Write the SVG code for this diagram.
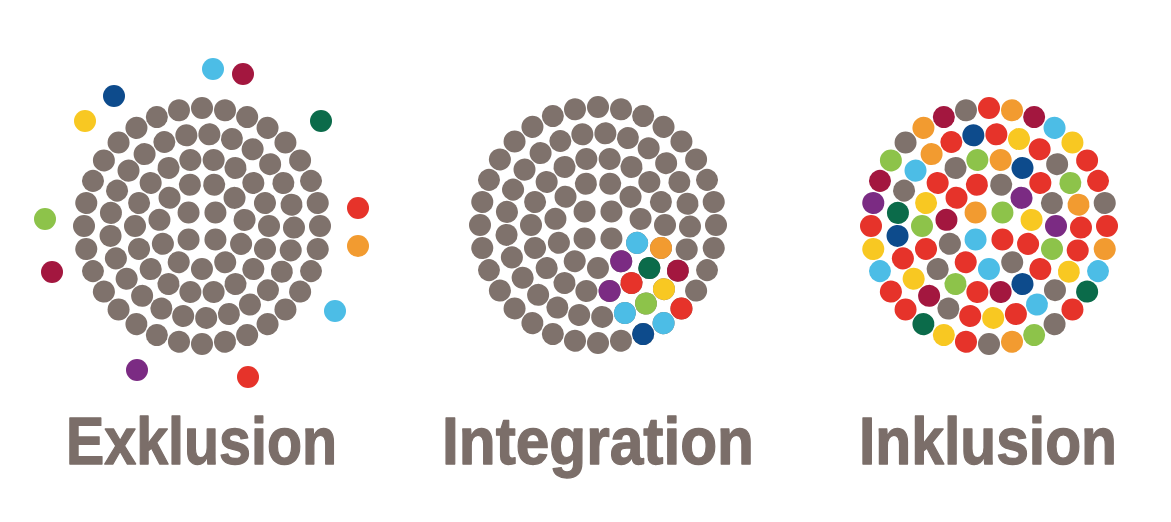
<svg xmlns="http://www.w3.org/2000/svg" xmlns:xlink="http://www.w3.org/1999/xlink" width="1171" height="522" viewBox="0 0 1171 522">
<style>
.g{fill:#7f726c}.r{fill:#e6332a}.c{fill:#a3173f}.o{fill:#f29b30}.y{fill:#f8c822}.l{fill:#8dc34a}.d{fill:#0b6b4a}.b{fill:#4cbde6}.n{fill:#0d4b8c}.p{fill:#7b2b83}
.t{font-family:"Liberation Sans",Arial,sans-serif;font-weight:bold;font-size:66px;fill:#7b6e69;stroke:#7b6e69;stroke-width:1.3px;stroke-linejoin:round}
</style>
<defs>
<circle id="a1" cx="19" cy="0" r="11"/>
<circle id="a2" cx="43" cy="0" r="11"/>
<circle id="a3" cx="67" cy="0" r="11"/>
<circle id="a4" cx="92" cy="0" r="11"/>
<circle id="a5" cx="118" cy="0" r="11"/>
<circle id="s" cx="0" cy="0" r="11"/>
<g id="disc">
<use href="#a1" transform="rotate(45)"/><use href="#a1" transform="rotate(135)"/><use href="#a1" transform="rotate(225)"/><use href="#a1" transform="rotate(315)"/>
<use href="#a2" transform="rotate(24.6)"/><use href="#a2" transform="rotate(57.33)"/><use href="#a2" transform="rotate(90.05)"/><use href="#a2" transform="rotate(122.78)"/><use href="#a2" transform="rotate(155.51)"/><use href="#a2" transform="rotate(188.24)"/><use href="#a2" transform="rotate(220.96)"/><use href="#a2" transform="rotate(253.69)"/><use href="#a2" transform="rotate(286.42)"/><use href="#a2" transform="rotate(319.15)"/><use href="#a2" transform="rotate(351.87)"/>
<use href="#a3" transform="rotate(0)"/><use href="#a3" transform="rotate(20)"/><use href="#a3" transform="rotate(40)"/><use href="#a3" transform="rotate(60)"/><use href="#a3" transform="rotate(80)"/><use href="#a3" transform="rotate(100)"/><use href="#a3" transform="rotate(120)"/><use href="#a3" transform="rotate(140)"/><use href="#a3" transform="rotate(160)"/><use href="#a3" transform="rotate(180)"/><use href="#a3" transform="rotate(200)"/><use href="#a3" transform="rotate(220)"/><use href="#a3" transform="rotate(240)"/><use href="#a3" transform="rotate(260)"/><use href="#a3" transform="rotate(280)"/><use href="#a3" transform="rotate(300)"/><use href="#a3" transform="rotate(320)"/><use href="#a3" transform="rotate(340)"/>
<use href="#a4" transform="rotate(1)"/><use href="#a4" transform="rotate(15.4)"/><use href="#a4" transform="rotate(29.8)"/><use href="#a4" transform="rotate(44.2)"/><use href="#a4" transform="rotate(58.6)"/><use href="#a4" transform="rotate(73)"/><use href="#a4" transform="rotate(87.4)"/><use href="#a4" transform="rotate(101.8)"/><use href="#a4" transform="rotate(116.2)"/><use href="#a4" transform="rotate(130.6)"/><use href="#a4" transform="rotate(145)"/><use href="#a4" transform="rotate(159.4)"/><use href="#a4" transform="rotate(173.8)"/><use href="#a4" transform="rotate(188.2)"/><use href="#a4" transform="rotate(202.6)"/><use href="#a4" transform="rotate(217)"/><use href="#a4" transform="rotate(231.4)"/><use href="#a4" transform="rotate(245.8)"/><use href="#a4" transform="rotate(260.2)"/><use href="#a4" transform="rotate(274.6)"/><use href="#a4" transform="rotate(289)"/><use href="#a4" transform="rotate(303.4)"/><use href="#a4" transform="rotate(317.8)"/><use href="#a4" transform="rotate(332.2)"/><use href="#a4" transform="rotate(346.6)"/>
<use href="#a5" transform="rotate(0)"/><use href="#a5" transform="rotate(11.25)"/><use href="#a5" transform="rotate(22.5)"/><use href="#a5" transform="rotate(33.75)"/><use href="#a5" transform="rotate(45)"/><use href="#a5" transform="rotate(56.25)"/><use href="#a5" transform="rotate(67.5)"/><use href="#a5" transform="rotate(78.75)"/><use href="#a5" transform="rotate(90)"/><use href="#a5" transform="rotate(101.25)"/><use href="#a5" transform="rotate(112.5)"/><use href="#a5" transform="rotate(123.75)"/><use href="#a5" transform="rotate(135)"/><use href="#a5" transform="rotate(146.25)"/><use href="#a5" transform="rotate(157.5)"/><use href="#a5" transform="rotate(168.75)"/><use href="#a5" transform="rotate(180)"/><use href="#a5" transform="rotate(191.25)"/><use href="#a5" transform="rotate(202.5)"/><use href="#a5" transform="rotate(213.75)"/><use href="#a5" transform="rotate(225)"/><use href="#a5" transform="rotate(236.25)"/><use href="#a5" transform="rotate(247.5)"/><use href="#a5" transform="rotate(258.75)"/><use href="#a5" transform="rotate(270)"/><use href="#a5" transform="rotate(281.25)"/><use href="#a5" transform="rotate(292.5)"/><use href="#a5" transform="rotate(303.75)"/><use href="#a5" transform="rotate(315)"/><use href="#a5" transform="rotate(326.25)"/><use href="#a5" transform="rotate(337.5)"/><use href="#a5" transform="rotate(348.75)"/>
</g>
</defs>
<rect width="1171" height="522" fill="#ffffff"/>

<g id="exklusion">
<use href="#disc" class="g" transform="translate(202,226)"/>
<g id="exklusion-outside">
<use href="#s" class="b" x="213" y="69"/>
<use href="#s" class="c" x="243" y="74"/>
<use href="#s" class="n" x="114" y="96"/>
<use href="#s" class="y" x="85" y="121"/>
<use href="#s" class="d" x="321" y="121"/>
<use href="#s" class="l" x="45" y="219"/>
<use href="#s" class="r" x="358" y="208"/>
<use href="#s" class="o" x="358" y="246"/>
<use href="#s" class="c" x="52" y="272"/>
<use href="#s" class="b" x="335" y="311"/>
<use href="#s" class="p" x="137" y="370"/>
<use href="#s" class="r" x="248" y="377"/>
</g>
<text class="t" x="66" y="464" textLength="271" lengthAdjust="spacingAndGlyphs">Exklusion</text>
</g>

<g id="integration">
<use href="#disc" class="g" transform="translate(598,225)"/>
<g transform="translate(598,225)">
<use href="#a2" class="b" transform="rotate(24.6)"/><use href="#a2" class="p" transform="rotate(57.33)"/>
<use href="#a3" class="o" transform="rotate(20)"/><use href="#a3" class="d" transform="rotate(40)"/><use href="#a3" class="r" transform="rotate(60)"/><use href="#a3" class="p" transform="rotate(80)"/>
<use href="#a4" class="c" transform="rotate(29.8)"/><use href="#a4" class="y" transform="rotate(44.2)"/><use href="#a4" class="l" transform="rotate(58.6)"/><use href="#a4" class="b" transform="rotate(73)"/>
<use href="#a5" class="r" transform="rotate(45)"/><use href="#a5" class="b" transform="rotate(56.25)"/><use href="#a5" class="n" transform="rotate(67.5)"/>
</g>
<text class="t" x="442" y="464" textLength="312" lengthAdjust="spacingAndGlyphs">Integration</text>
</g>

<g id="inklusion">
<g transform="translate(989,226)">
<use href="#a1" class="r" transform="rotate(45)"/><use href="#a1" class="b" transform="rotate(135)"/><use href="#a1" class="o" transform="rotate(225)"/><use href="#a1" class="l" transform="rotate(315)"/>
<use href="#a2" class="r" transform="rotate(24.6)"/><use href="#a2" class="g" transform="rotate(57.33)"/><use href="#a2" class="b" transform="rotate(90.05)"/><use href="#a2" class="r" transform="rotate(122.78)"/><use href="#a2" class="g" transform="rotate(155.51)"/><use href="#a2" class="c" transform="rotate(188.24)"/><use href="#a2" class="r" transform="rotate(220.96)"/><use href="#a2" class="r" transform="rotate(253.69)"/><use href="#a2" class="g" transform="rotate(286.42)"/><use href="#a2" class="p" transform="rotate(319.15)"/><use href="#a2" class="y" transform="rotate(351.87)"/>
<use href="#a3" class="p" transform="rotate(0)"/><use href="#a3" class="l" transform="rotate(20)"/><use href="#a3" class="r" transform="rotate(40)"/><use href="#a3" class="n" transform="rotate(60)"/><use href="#a3" class="c" transform="rotate(80)"/><use href="#a3" class="r" transform="rotate(100)"/><use href="#a3" class="l" transform="rotate(120)"/><use href="#a3" class="g" transform="rotate(140)"/><use href="#a3" class="r" transform="rotate(160)"/><use href="#a3" class="l" transform="rotate(180)"/><use href="#a3" class="y" transform="rotate(200)"/><use href="#a3" class="r" transform="rotate(220)"/><use href="#a3" class="g" transform="rotate(240)"/><use href="#a3" class="l" transform="rotate(260)"/><use href="#a3" class="o" transform="rotate(280)"/><use href="#a3" class="n" transform="rotate(300)"/><use href="#a3" class="r" transform="rotate(320)"/><use href="#a3" class="g" transform="rotate(340)"/>
<use href="#a4" class="r" transform="rotate(1)"/><use href="#a4" class="r" transform="rotate(15.4)"/><use href="#a4" class="y" transform="rotate(29.8)"/><use href="#a4" class="g" transform="rotate(44.2)"/><use href="#a4" class="b" transform="rotate(58.6)"/><use href="#a4" class="r" transform="rotate(73)"/><use href="#a4" class="y" transform="rotate(87.4)"/><use href="#a4" class="r" transform="rotate(101.8)"/><use href="#a4" class="g" transform="rotate(116.2)"/><use href="#a4" class="c" transform="rotate(130.6)"/><use href="#a4" class="y" transform="rotate(145)"/><use href="#a4" class="r" transform="rotate(159.4)"/><use href="#a4" class="n" transform="rotate(173.8)"/><use href="#a4" class="d" transform="rotate(188.2)"/><use href="#a4" class="g" transform="rotate(202.6)"/><use href="#a4" class="b" transform="rotate(217)"/><use href="#a4" class="o" transform="rotate(231.4)"/><use href="#a4" class="r" transform="rotate(245.8)"/><use href="#a4" class="n" transform="rotate(260.2)"/><use href="#a4" class="r" transform="rotate(274.6)"/><use href="#a4" class="y" transform="rotate(289)"/><use href="#a4" class="r" transform="rotate(303.4)"/><use href="#a4" class="g" transform="rotate(317.8)"/><use href="#a4" class="l" transform="rotate(332.2)"/><use href="#a4" class="o" transform="rotate(346.6)"/>
<use href="#a5" class="r" transform="rotate(0)"/><use href="#a5" class="o" transform="rotate(11.25)"/><use href="#a5" class="b" transform="rotate(22.5)"/><use href="#a5" class="d" transform="rotate(33.75)"/><use href="#a5" class="r" transform="rotate(45)"/><use href="#a5" class="g" transform="rotate(56.25)"/><use href="#a5" class="l" transform="rotate(67.5)"/><use href="#a5" class="o" transform="rotate(78.75)"/><use href="#a5" class="g" transform="rotate(90)"/><use href="#a5" class="r" transform="rotate(101.25)"/><use href="#a5" class="y" transform="rotate(112.5)"/><use href="#a5" class="d" transform="rotate(123.75)"/><use href="#a5" class="r" transform="rotate(135)"/><use href="#a5" class="r" transform="rotate(146.25)"/><use href="#a5" class="b" transform="rotate(157.5)"/><use href="#a5" class="y" transform="rotate(168.75)"/><use href="#a5" class="r" transform="rotate(180)"/><use href="#a5" class="p" transform="rotate(191.25)"/><use href="#a5" class="c" transform="rotate(202.5)"/><use href="#a5" class="l" transform="rotate(213.75)"/><use href="#a5" class="g" transform="rotate(225)"/><use href="#a5" class="o" transform="rotate(236.25)"/><use href="#a5" class="c" transform="rotate(247.5)"/><use href="#a5" class="g" transform="rotate(258.75)"/><use href="#a5" class="r" transform="rotate(270)"/><use href="#a5" class="o" transform="rotate(281.25)"/><use href="#a5" class="c" transform="rotate(292.5)"/><use href="#a5" class="b" transform="rotate(303.75)"/><use href="#a5" class="y" transform="rotate(315)"/><use href="#a5" class="r" transform="rotate(326.25)"/><use href="#a5" class="r" transform="rotate(337.5)"/><use href="#a5" class="g" transform="rotate(348.75)"/>
</g>
<text class="t" x="859" y="464" textLength="258" lengthAdjust="spacingAndGlyphs">Inklusion</text>
</g>
</svg>
